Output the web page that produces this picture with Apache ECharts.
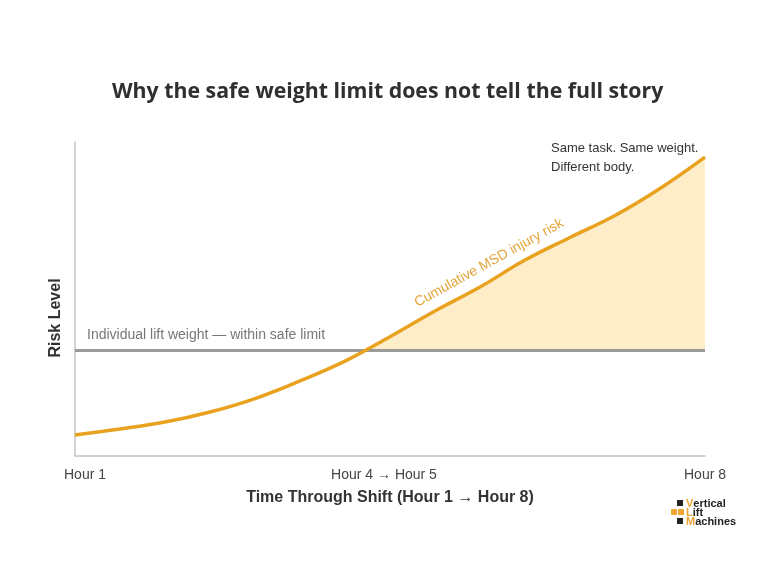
<!DOCTYPE html>
<html lang="en">
<head>
  <meta charset="UTF-8">
  <title>Safe weight limit</title>
  <style>
    html, body { width: 100%; height: 100%; margin: 0; padding: 0; background: #fff; }
    #chart { width: 768px; height: 576px; }
  </style>
</head>
<body>
  <div id="chart"></div>
  <script src="https://cdn.jsdelivr.net/npm/echarts@6/dist/echarts.min.js"></script>
  <script>
    // hours through the shift and cumulative risk
    var hours = [1, 1.5, 2, 2.5, 3, 3.5, 4, 4.5, 5, 5.5, 6, 6.5, 7, 7.5, 8];
    var risk = [6.7, 8.6, 10.8, 14.0, 18.3, 23.9, 30.2, 38.0, 46.2, 53.8, 62.4, 69.6, 76.6, 85.2, 95.2];
    var safeLimit = 33.8;
    var tickLabels = { 1: '{a|Hour 1}', 4.5: '{b|Hour 4 \u2192 Hour 5}', 8: 'Hour 8' };

    var curve = hours.map(function (h, i) { return [h, risk[i]]; });

    // part of the curve above the safe limit, starting at the crossing
    var above = [];
    for (var i = 0; i < hours.length; i++) {
      if (risk[i] >= safeLimit) {
        if (i > 0 && risk[i - 1] < safeLimit) {
          var t = (safeLimit - risk[i - 1]) / (risk[i] - risk[i - 1]);
          above.push([hours[i - 1] + t * (hours[i] - hours[i - 1]), safeLimit]);
        }
        above.push([hours[i], risk[i]]);
      }
    }

    var font = 'Liberation Sans, Arial, sans-serif';
    var chart = echarts.init(document.getElementById('chart'));

    chart.setOption({
      backgroundColor: '#fff',
      animation: false,
      title: {
        text: 'Why the safe weight limit does not tell the full story',
        left: 107,
        top: 76,
        textStyle: { fontFamily: 'Open Sans, sans-serif', fontSize: 21.3, fontWeight: 'bold', color: '#2f2f2f' }
      },
      grid: { left: 75, right: 63, top: 142, bottom: 120 },
      xAxis: {
        type: 'value',
        min: 1,
        max: 8,
        interval: 3.5,
        name: 'Time Through Shift (Hour 1 \u2192 Hour 8)',
        nameLocation: 'middle',
        nameGap: 34,
        nameTextStyle: { fontFamily: font, fontSize: 16, fontWeight: 'bold', color: '#333' },
        axisLine: { lineStyle: { color: '#c4c4c4', width: 1.5 } },
        axisTick: { show: false },
        splitLine: { show: false },
        axisLabel: {
          margin: 12,
          fontFamily: font,
          fontSize: 14,
          color: '#444',
          formatter: function (v) { return tickLabels[v] || ''; },
          rich: {
            a: { fontFamily: font, fontSize: 14, color: '#444', padding: [0, 0, 0, 20] },
            b: { fontFamily: font, fontSize: 14, color: '#444', padding: [0, 12, 0, 0] }
          }
        }
      },
      yAxis: {
        type: 'value',
        min: 0,
        max: 100,
        name: 'Risk Level',
        nameLocation: 'middle',
        nameGap: 11,
        nameTextStyle: { fontFamily: font, fontSize: 16, fontWeight: 'bold', color: '#333', padding: [0, 0, 0, -38] },
        axisLine: { show: true, lineStyle: { color: '#c4c4c4', width: 1.5 } },
        axisTick: { show: false },
        axisLabel: { show: false },
        splitLine: { show: false }
      },
      series: [
        {
          type: 'line',
          data: above,
          symbol: 'none',
          smooth: 0.4,
          lineStyle: { width: 0 },
          areaStyle: { origin: safeLimit, color: '#fdedc9', opacity: 1 },
          z: 1
        },
        {
          type: 'line',
          data: curve,
          symbol: 'none',
          smooth: 0.4,
          lineStyle: { color: '#e9a21f', width: 3.5 },
          z: 3,
          markLine: {
            silent: true,
            symbol: 'none',
            label: { show: false },
            lineStyle: { color: '#9a9a9a', width: 3, type: 'solid' },
            data: [{ yAxis: safeLimit }],
            z: 2
          }
        }
      ],
      graphic: [
        {
          type: 'text', left: 87, top: 328,
          style: { text: 'Individual lift weight \u2014 within safe limit', font: '14px ' + font, fill: '#777' }
        },
        {
          type: 'text', left: 551, top: 139,
          style: { text: 'Same task. Same weight.\nDifferent body.', font: '13px ' + font, fill: '#333', lineHeight: 19 }
        },
        {
          type: 'text', x: 489, y: 263, rotation: 29 * Math.PI / 180,
          style: { text: 'Cumulative MSD injury risk', font: '14px ' + font, fill: '#e3a43a', align: 'center', verticalAlign: 'middle' }
        },
        // logo
        { type: 'rect', shape: { x: 677, y: 500, width: 6, height: 6 }, style: { fill: '#222' } },
        { type: 'rect', shape: { x: 671, y: 509, width: 6, height: 6 }, style: { fill: '#eea532' } },
        { type: 'rect', shape: { x: 678, y: 509, width: 6, height: 6 }, style: { fill: '#eea532' } },
        { type: 'rect', shape: { x: 677, y: 518, width: 6, height: 6 }, style: { fill: '#222' } },
        {
          type: 'text', left: 686, top: 498,
          style: {
            text: '{o|V}{k|ertical}\n{o|L}{k|ift}\n{o|M}{k|achines}',
            lineHeight: 9,
            rich: {
              o: { fill: '#eea532', font: 'bold 11px ' + font, lineHeight: 9 },
              k: { fill: '#222', font: 'bold 11px ' + font, lineHeight: 9 }
            }
          }
        }
      ]
    });
  </script>
</body>
</html>
